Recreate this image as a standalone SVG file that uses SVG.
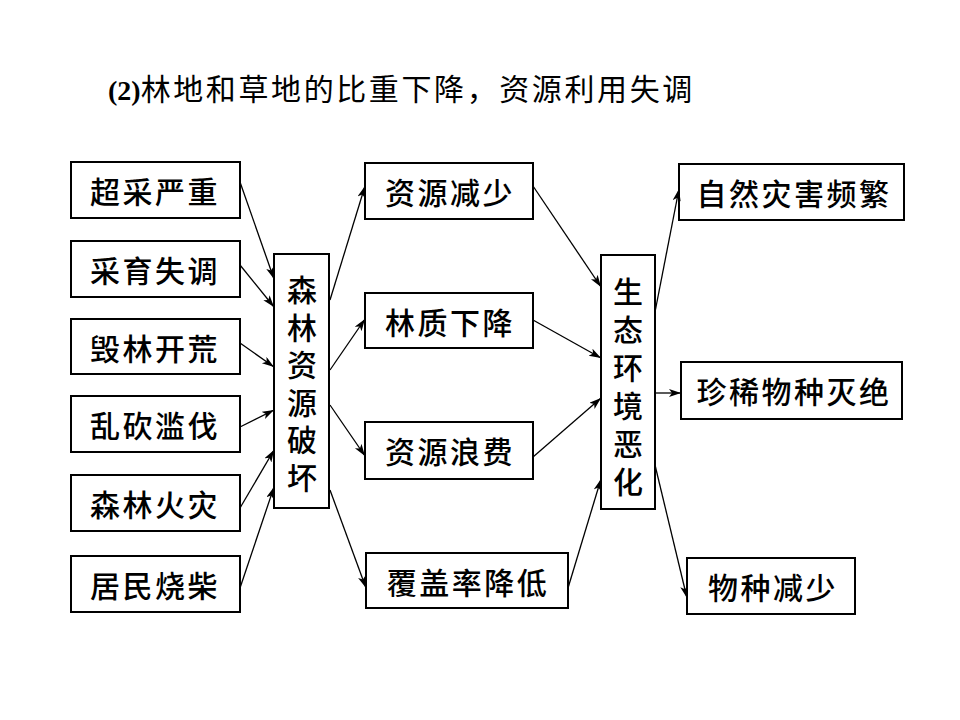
<svg xmlns="http://www.w3.org/2000/svg" width="960" height="720" viewBox="0 0 960 720">
<style>
.box{fill:#fff;stroke:#000;stroke-width:2}
.t{font-family:"Noto Sans CJK SC","Liberation Serif",sans-serif;font-size:30px;font-weight:500;fill:#000;text-anchor:middle;dominant-baseline:central;letter-spacing:2.5px}
.v{font-family:"Noto Sans CJK SC","Liberation Serif",sans-serif;font-size:30px;font-weight:500;fill:#000;text-anchor:start;writing-mode:vertical-rl;text-orientation:upright}
.c line{stroke:#000;stroke-width:1.3;marker-end:url(#ah)}
</style>
<defs>
<marker id="ah" markerUnits="userSpaceOnUse" markerWidth="14" markerHeight="10" refX="12" refY="4" orient="auto">
<path d="M0,0 L12,4 L0,8 L3,4 Z" fill="#000"/>
</marker>
</defs>
<rect width="960" height="720" fill="#fff"/>
<text x="108" y="100" font-family="'Liberation Serif',serif" font-weight="bold" font-size="28">(2)<tspan font-family="'Noto Sans CJK SC',sans-serif" font-weight="normal" font-size="30" letter-spacing="2.6">林地和草地的比重下降，资源利用失调</tspan></text>

<g id="n1"><rect class="box" x="71" y="162" width="169" height="56"/><text class="t" x="155" y="190">超采严重</text></g>
<g id="n2"><rect class="box" x="71" y="241" width="169" height="56"/><text class="t" x="155" y="269">采育失调</text></g>
<g id="n3"><rect class="box" x="71" y="319" width="169" height="55"/><text class="t" x="155" y="347">毁林开荒</text></g>
<g id="n4"><rect class="box" x="71" y="396" width="169" height="56"/><text class="t" x="155" y="424">乱砍滥伐</text></g>
<g id="n5"><rect class="box" x="71" y="475" width="169" height="56"/><text class="t" x="155" y="503">森林火灾</text></g>
<g id="n6"><rect class="box" x="71" y="556" width="169" height="56"/><text class="t" x="155" y="584">居民烧柴</text></g>

<g id="forest"><rect class="box" x="274" y="254" width="55" height="254"/>
<text class="v" x="302" y="275" letter-spacing="7.5">森林资源破坏</text></g>

<g id="m1"><rect class="box" x="365" y="163" width="168" height="56"/><text class="t" x="450" y="191">资源减少</text></g>
<g id="m2"><rect class="box" x="365" y="293" width="168" height="55"/><text class="t" x="450" y="321">林质下降</text></g>
<g id="m3"><rect class="box" x="365" y="422" width="168" height="57"/><text class="t" x="450" y="450">资源浪费</text></g>
<g id="m4"><rect class="box" x="366" y="553" width="202" height="55"/><text class="t" x="468" y="581">覆盖率降低</text></g>

<g id="eco"><rect class="box" x="601" y="255" width="54" height="254"/>
<text class="v" x="628" y="277" letter-spacing="8">生态环境恶化</text></g>

<g id="r1"><rect class="box" x="679" y="164" width="225" height="56"/><text class="t" x="794" y="192">自然灾害频繁</text></g>
<g id="r2"><rect class="box" x="681" y="362" width="221" height="57"/><text class="t" x="794" y="390">珍稀物种灭绝</text></g>
<g id="r3"><rect class="box" x="687" y="558" width="168" height="56"/><text class="t" x="773" y="586">物种减少</text></g>

<g class="c" id="connectors">
<line x1="240" y1="182" x2="274" y2="279"/>
<line x1="240" y1="265" x2="274" y2="307"/>
<line x1="240" y1="343" x2="274" y2="367"/>
<line x1="240" y1="427" x2="274" y2="410"/>
<line x1="240" y1="508" x2="274" y2="450"/>
<line x1="240" y1="588" x2="274" y2="487"/>
<line x1="330" y1="300" x2="365" y2="186"/>
<line x1="330" y1="370" x2="365" y2="319"/>
<line x1="330" y1="405" x2="365" y2="456"/>
<line x1="330" y1="490" x2="366" y2="588"/>
<line x1="533" y1="186" x2="601" y2="287"/>
<line x1="533" y1="320" x2="601" y2="358"/>
<line x1="533" y1="457" x2="601" y2="398"/>
<line x1="568" y1="588" x2="601" y2="479"/>
<line x1="655" y1="312" x2="679" y2="189"/>
<line x1="655" y1="393" x2="681" y2="393"/>
<line x1="655" y1="465" x2="687" y2="598"/>
</g>
</svg>
